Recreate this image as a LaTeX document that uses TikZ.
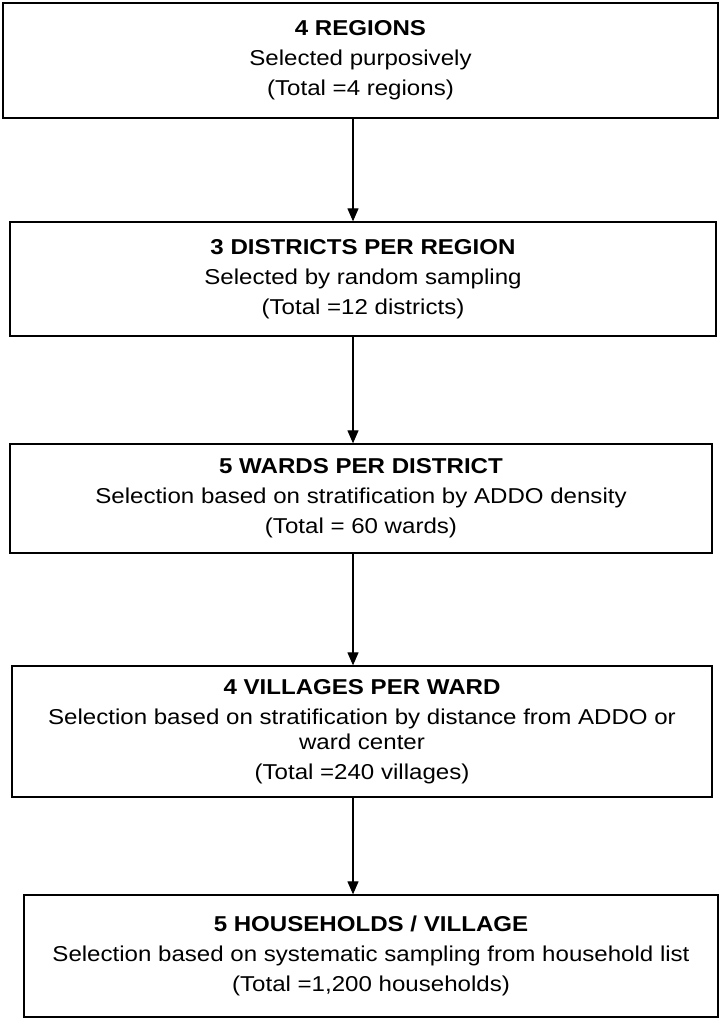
\documentclass[tikz,border=0pt]{standalone}
\usepackage{fontspec}
\setmainfont{Liberation Sans}[FakeStretch=1.12]
\usetikzlibrary{arrows.meta}

\begin{document}
\begin{tikzpicture}[
    x=1pt, y=-1pt,
    stage/.style={
      draw,
      line width=1.3pt,
      align=center,
      inner sep=0pt,
      font=\fontsize{21.5}{30}\selectfont
    },
    down/.style={line width=1.2pt, -{Triangle[width=11pt,length=13pt]}}
  ]
  \useasboundingbox (0,0) rectangle (722,1020);

  \node[stage, minimum width=715pt, minimum height=115pt] (regions) at (360.5,60.5)
    {\textbf{4 REGIONS}\\Selected purposively\\(Total =4 regions)};
  \node[stage, minimum width=706pt, minimum height=114pt] (districts) at (363,279)
    {\textbf{3 DISTRICTS PER REGION}\\Selected by random sampling\\(Total =12 districts)};
  \node[stage, minimum width=702pt, minimum height=109pt] (wards) at (361,498.5)
    {\textbf{5 WARDS PER DISTRICT}\\Selection based on stratification by ADDO density\\(Total = 60 wards)};
  \node[stage, minimum width=700pt, minimum height=131pt] (villages) at (362,731.5)
    {\textbf{4 VILLAGES PER WARD}\\Selection based on stratification by distance from ADDO or\\[-5pt]ward center\\(Total =240 villages)};
  \node[stage, minimum width=694pt, minimum height=122pt] (households) at (371,956)
    {\textbf{5 HOUSEHOLDS / VILLAGE}\\Selection based on systematic sampling from household list\\(Total =1,200 households)};

  % arrows run down one line, a bit left of the middle
  \coordinate (axis) at (353,0);
  \draw[down] (regions.south -| axis) -- (districts.north -| axis);
  \draw[down] (districts.south -| axis) -- (wards.north -| axis);
  \draw[down] (wards.south -| axis) -- (villages.north -| axis);
  \draw[down] (villages.south -| axis) -- (households.north -| axis);
\end{tikzpicture}
\end{document}
